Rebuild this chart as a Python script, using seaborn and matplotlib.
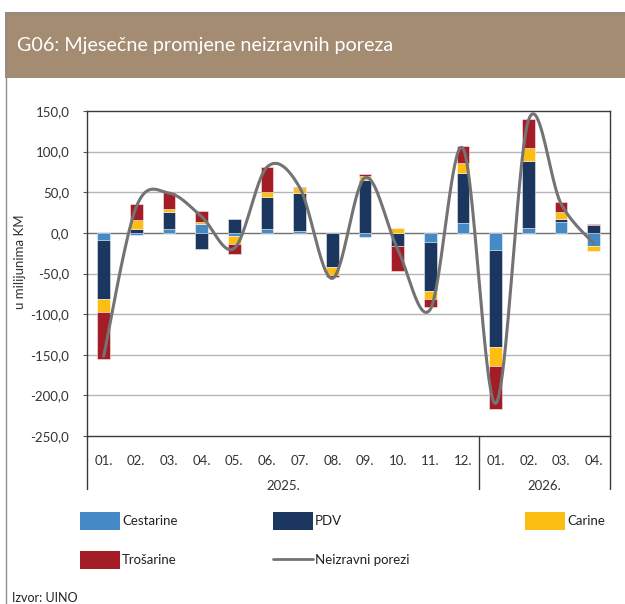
import numpy as np
import matplotlib
matplotlib.use("Agg")
import matplotlib.pyplot as plt
from matplotlib.patches import Rectangle
from matplotlib.lines import Line2D
import seaborn as sns

# ---- data ----
months = ["01.", "02.", "03.", "04.", "05.", "06.", "07.", "08.", "09.", "10.", "11.", "12.",
          "01.", "02.", "03.", "04."]
years = ["2025.", "2026."]
cestarine = [-8.2, -2.5, 4.2, 11.5, -3.3, 4.5, 2.5, 0.0, -4.9, 0.0, -11.8, 11.9, -21.3, 5.8, 13.2, -16.4]
pdv = [-73.4, 4.2, 21.7, -20.0, 16.9, 39.8, 46.7, -42.6, 64.9, -16.4, -59.6, 62.0, -119.0, 82.4, 3.7, 9.1]
carine = [-15.6, 11.4, 4.1, 2.0, -10.2, 5.7, 6.2, -9.4, 4.9, 5.4, -10.2, 11.5, -23.8, 16.4, 9.0, -5.7]
trosarine = [-58.3, 20.5, 20.5, 13.6, -11.9, 30.5, 1.2, -2.9, 2.4, -30.4, -10.2, 21.7, -53.0, 35.4, 12.7, 2.0]
neizravni = [-152, 32, 49, 20, -19, 81, 56, -56, 68, -20, -94, 104, -210, 138, 36, -13]
yticks = [150, 100, 50, 0, -50, -100, -150, -200, -250]

series = [("Cestarine", cestarine, "#4589C6"),
          ("PDV", pdv, "#1B365F"),
          ("Carine", carine, "#FDBE14"),
          ("Trošarine", trosarine, "#A41C25")]
line_color = "#737373"

sns.set_theme(style="white")
plt.rcParams["font.family"] = ["Lato", "DejaVu Sans"]

W, H = 625, 604
fig = plt.figure(figsize=(W / 100, H / 100), dpi=100)

def fx(px):
    return px / W

def fy(py):
    return 1 - py / H

# title band and frame
fig.add_artist(Rectangle((fx(5), fy(78)), fx(625) - fx(5), fy(12) - fy(78),
                         transform=fig.transFigure, facecolor="#A38C72", edgecolor="none"))
fig.add_artist(Line2D([fx(5), fx(625)], [fy(12.5), fy(12.5)], transform=fig.transFigure,
                      color="#8C8C8C", lw=1.0))
fig.add_artist(Line2D([fx(5.5), fx(5.5)], [fy(12), fy(604)], transform=fig.transFigure,
                      color="#8C8C8C", lw=1.0))
fig.text(fx(17), fy(46), "G06: Mjesečne promjene neizravnih poreza", color="white",
         fontsize=14.2, va="center", ha="left")

left, right, top, bottom = 87.3, 610, 111, 436
ax = fig.add_axes([fx(left), fy(bottom), fx(right) - fx(left), fy(top) - fy(bottom)])

x = np.arange(len(months))
pos_base = np.zeros(len(months))
neg_base = np.zeros(len(months))
width = 0.39
for name, vals, col in series:
    v = np.array(vals, dtype=float)
    base = np.where(v >= 0, pos_base, neg_base)
    ax.bar(x, v, width=width, bottom=base, color=col, edgecolor=(1, 1, 1, 0.55),
           linewidth=0.6, zorder=3)
    pos_base = pos_base + np.where(v >= 0, v, 0)
    neg_base = neg_base + np.where(v < 0, v, 0)

# smoothed line (Bezier through the points, like a spreadsheet smoothed line)
P = np.array(neizravni, dtype=float)
n = len(P)
xs, ys = [], []
for i in range(n - 1):
    p0 = np.array([x[max(i - 1, 0)], P[max(i - 1, 0)]])
    p1 = np.array([x[i], P[i]])
    p2 = np.array([x[i + 1], P[i + 1]])
    p3 = np.array([x[min(i + 2, n - 1)], P[min(i + 2, n - 1)]])
    c1 = p1 + (p2 - p0) / 6
    c2 = p2 - (p3 - p1) / 6
    t = np.linspace(0, 1, 40)[:, None]
    pts = ((1 - t) ** 3) * p1 + 3 * ((1 - t) ** 2) * t * c1 + 3 * (1 - t) * t ** 2 * c2 + t ** 3 * p2
    xs.extend(pts[:, 0])
    ys.extend(pts[:, 1])
sns.lineplot(x=xs, y=ys, sort=False, estimator=None, color=line_color, lw=2.2, ax=ax, zorder=5)

ax.set_xlim(-0.5, len(months) - 0.5)
ax.set_ylim(-250, 150)
ax.set_yticks(yticks)
ax.set_yticklabels([f"{t:.1f}".replace(".", ",") for t in yticks], fontsize=9.5, color="#333333")
ax.set_xticks(x)
ax.set_xticklabels(months, fontsize=9.5, color="#333333")
ax.tick_params(axis="x", length=0, pad=14)
ax.tick_params(axis="y", length=3, width=0.8, color="#555555", pad=10, left=True)
for t in yticks:
    if t == 0:
        ax.axhline(0, color="#707070", lw=1.0, zorder=2)
    elif t not in (150, -250):
        ax.axhline(t, color="#B5B5B5", lw=1.0, zorder=1)
for s in ["left", "right", "top", "bottom"]:
    ax.spines[s].set_color("#3A3A3A")
    ax.spines[s].set_linewidth(1.0)

# year separators and labels
trans = ax.get_xaxis_transform()
sep_bottom = -(489 - bottom) / (bottom - top)
for sx in [-0.5, 11.5, 15.5]:
    ax.plot([sx, sx], [0, sep_bottom], transform=trans, color="#3A3A3A", lw=1.0, clip_on=False)
year_y = -(486.5 - bottom) / (bottom - top)
ax.text(5.5, year_y, years[0], transform=trans, ha="center", va="center", fontsize=9.5, color="#333333")
ax.text(13.5, year_y, years[1], transform=trans, ha="center", va="center", fontsize=9.5, color="#333333")

ax.set_ylabel("u milijunima KM", fontsize=9.5, color="#333333")
ax.yaxis.set_label_coords((26 - left) / (right - left), (bottom - 262) / (bottom - top))

# legend (drawn manually to match the layout)
def leg_patch(px, py, col, label):
    fig.add_artist(Rectangle((fx(px), fy(py + 9)), fx(40), 18 / H, transform=fig.transFigure,
                             facecolor=col, edgecolor="none"))
    fig.text(fx(px + 42), fy(py), label, fontsize=9.5, color="#222222", va="center", ha="left")

leg_patch(80, 521, series[0][2], series[0][0])
leg_patch(273, 521, series[1][2], series[1][0])
leg_patch(525, 521, series[2][2], series[2][0])
leg_patch(80, 560, series[3][2], series[3][0])
fig.add_artist(Line2D([fx(273), fx(313)], [fy(559), fy(559)], transform=fig.transFigure,
                      color=line_color, lw=2.0))
fig.text(fx(315), fy(560), "Neizravni porezi", fontsize=9.5, color="#222222", va="center", ha="left")

fig.text(fx(12), fy(598), "Izvor: UINO", fontsize=9, color="#222222", va="center", ha="left")

fig.savefig("out.png", dpi=100)
